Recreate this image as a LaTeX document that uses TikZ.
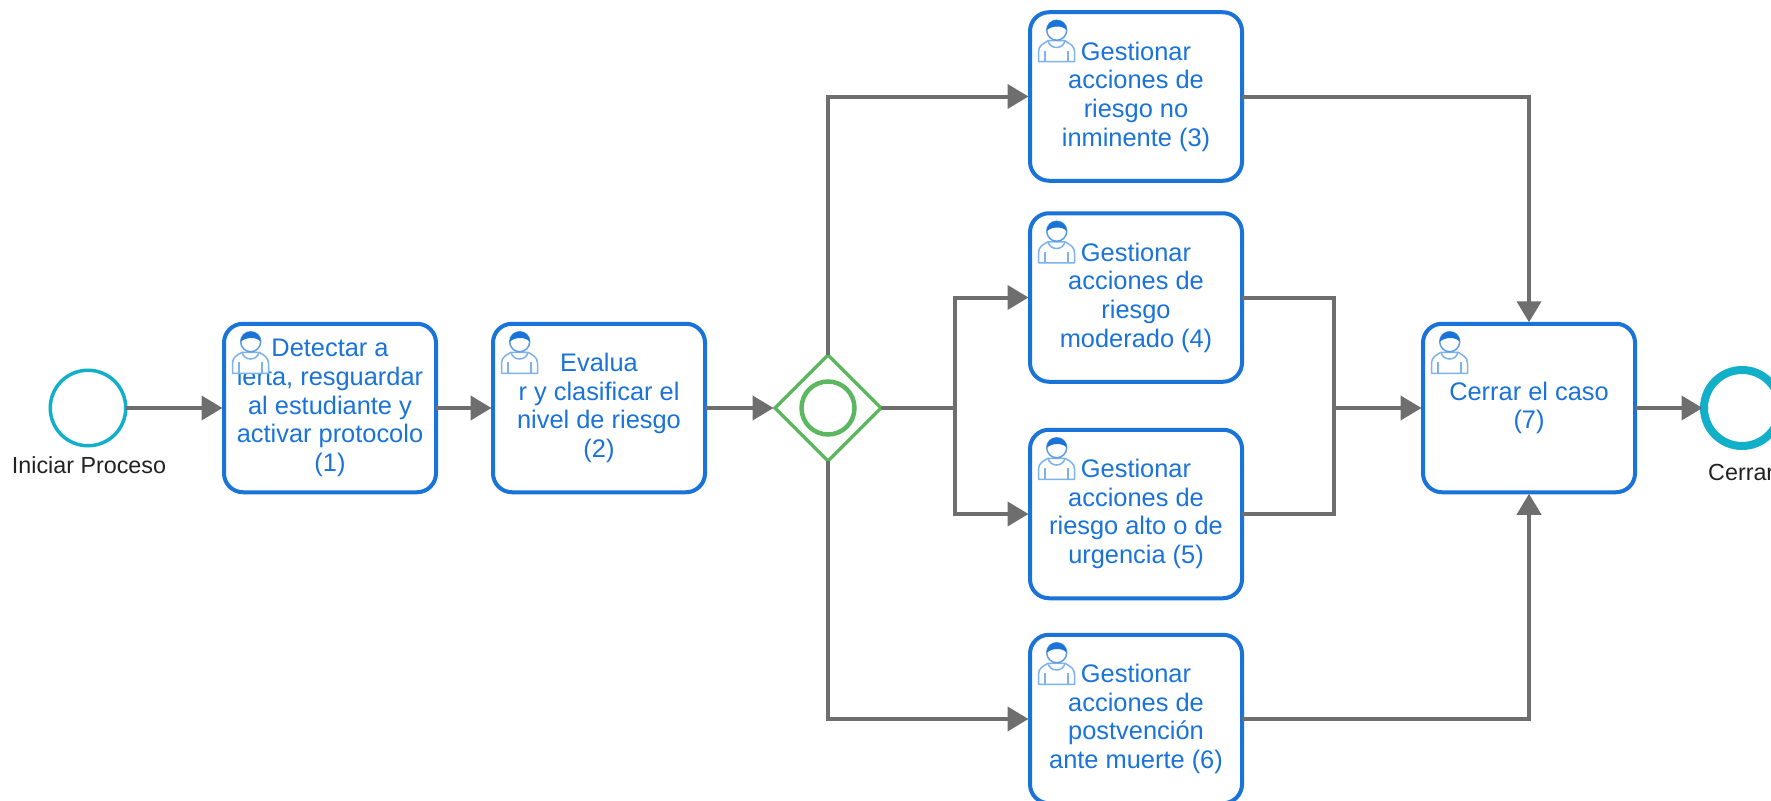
\documentclass[tikz,border=0pt]{standalone}
\usepackage{fontspec}
\setmainfont{Liberation Sans}
\usetikzlibrary{arrows.meta,shapes.geometric}
\definecolor{taskblue}{HTML}{1A73D8}
\definecolor{icolight}{HTML}{7DB2EA}
\definecolor{flowgray}{HTML}{6E6E6E}
\definecolor{gwgreen}{HTML}{5CB85F}
\definecolor{evteal}{HTML}{12B0C8}
\definecolor{labelink}{HTML}{222222}
\tikzset{
  x=1pt,y=-1pt,
  task/.style={draw=taskblue,line width=4pt,fill=white,rounded corners=19pt,outer sep=0pt,minimum width=212pt,minimum height=168.5pt,
    align=center,inner sep=0pt,text=taskblue,font=\fontsize{25.4}{28.7}\selectfont,
    execute at begin node={\rule{0pt}{20.5pt}}},
  flow/.style={draw=flowgray,line width=4pt,shorten >=1.5pt,-{Triangle[length=21pt,width=24pt]}},
  flowplain/.style={draw=flowgray,line width=4pt},
  evlabel/.style={font=\fontsize{23.3}{27}\selectfont,text=labelink,inner sep=0pt},
  usericon/.pic={
    \draw[icolight,line width=1.5pt,fill=white,line join=round]
      (0.5,42) -- (0.5,32) .. controls (0.5,26) and (5,24) .. (10,21)
      -- (27,21) .. controls (32,24) and (36.5,26) .. (36.5,32) -- (36.5,42) -- cycle;
    \draw[icolight,line width=1.5pt] (7,31) -- (7,42) (30,31) -- (30,42);
    \draw[icolight,line width=1.5pt] (10,21) .. controls (12,30) and (25,30) .. (27,21);
    \draw[taskblue!70,line width=1.5pt,fill=white] (18.7,10.5) circle [radius=10];
    \fill[taskblue] (8.7,10.5) .. controls (8.7,-3) and (28.7,-3) .. (28.7,10.5) .. controls (25,5.5) and (14,5.5) .. (8.7,10.5) -- cycle;
  }
}
\begin{document}
\begin{tikzpicture}
\useasboundingbox (0,0) rectangle (1771,800);
\clip (0,0) rectangle (1771,800);
\fill[white] (0,0) rectangle (1771,800);

\node[circle,draw=evteal,line width=3.5pt,fill=white,outer sep=0pt,minimum size=75.5pt,inner sep=0pt] (start) at (88,408) {};
\node[evlabel] (startlabel) at (89,465.5) {Iniciar Proceso};

\node[task] (t1) at (330,408) {Detectar a\\lerta, resguardar\\al estudiante y\\activar protocolo\\(1)};
\node[task] (t2) at (599,408) {Evalua\\r y clasificar el\\nivel de riesgo\\(2)};

\node[diamond,draw=gwgreen,line width=3.5pt,fill=white,outer sep=0pt,minimum width=106pt,minimum height=106pt,inner sep=0pt,aspect=1] (gw) at (828,408) {};
\node[circle,draw=gwgreen,line width=4.5pt,outer sep=0pt,minimum size=53pt,inner sep=0pt] (gwring) at (828,408) {};

\node[task] (t3) at (1136,96.5) {Gestionar\\acciones de\\riesgo no\\inminente (3)};
\node[task] (t4) at (1136,297.5) {Gestionar\\acciones de\\riesgo\\moderado (4)};
\node[task] (t5) at (1136,514) {Gestionar\\acciones de\\riesgo alto o de\\urgencia (5)};
\node[task] (t6) at (1136,719) {Gestionar\\acciones de\\postvención\\ante muerte (6)};
\node[task] (t7) at (1529,408) {Cerrar el caso\\(7)};

\node[circle,draw=evteal,line width=8pt,fill=white,outer sep=0pt,minimum size=76pt,inner sep=0pt] (end) at (1742,408) {};
\node[evlabel,anchor=west] (endlabel) at (1708,472) {Cerrar};

\foreach \t in {t1,t2,t3,t4,t5,t6,t7}{
  \path (\t.north west) ++(8,7.5) pic {usericon};
}

\coordinate (split) at (955,408);
\coordinate (merge) at (1334,408);

\draw[flow] (start) -- (t1);
\draw[flow] (t1) -- (t2);
\draw[flow] (t2) -- (gw.west);
\draw[flow] (gw.north) |- (t3.west);
\draw[flowplain] (gw.east) -- (split);
\draw[flow] (split) |- (t4.west);
\draw[flow] (split) |- (t5.west);
\draw[flow] (gw.south) |- (t6.west);
\draw[flow] (t3.east) -| (t7.north);
\draw[flowplain] (t4.east) -| (merge);
\draw[flowplain] (t5.east) -| (merge);
\draw[flow] (merge) -- (t7.west);
\draw[flow] (t6.east) -| (t7.south);
\draw[flow] (t7) -- (end);
\end{tikzpicture}
\end{document}
